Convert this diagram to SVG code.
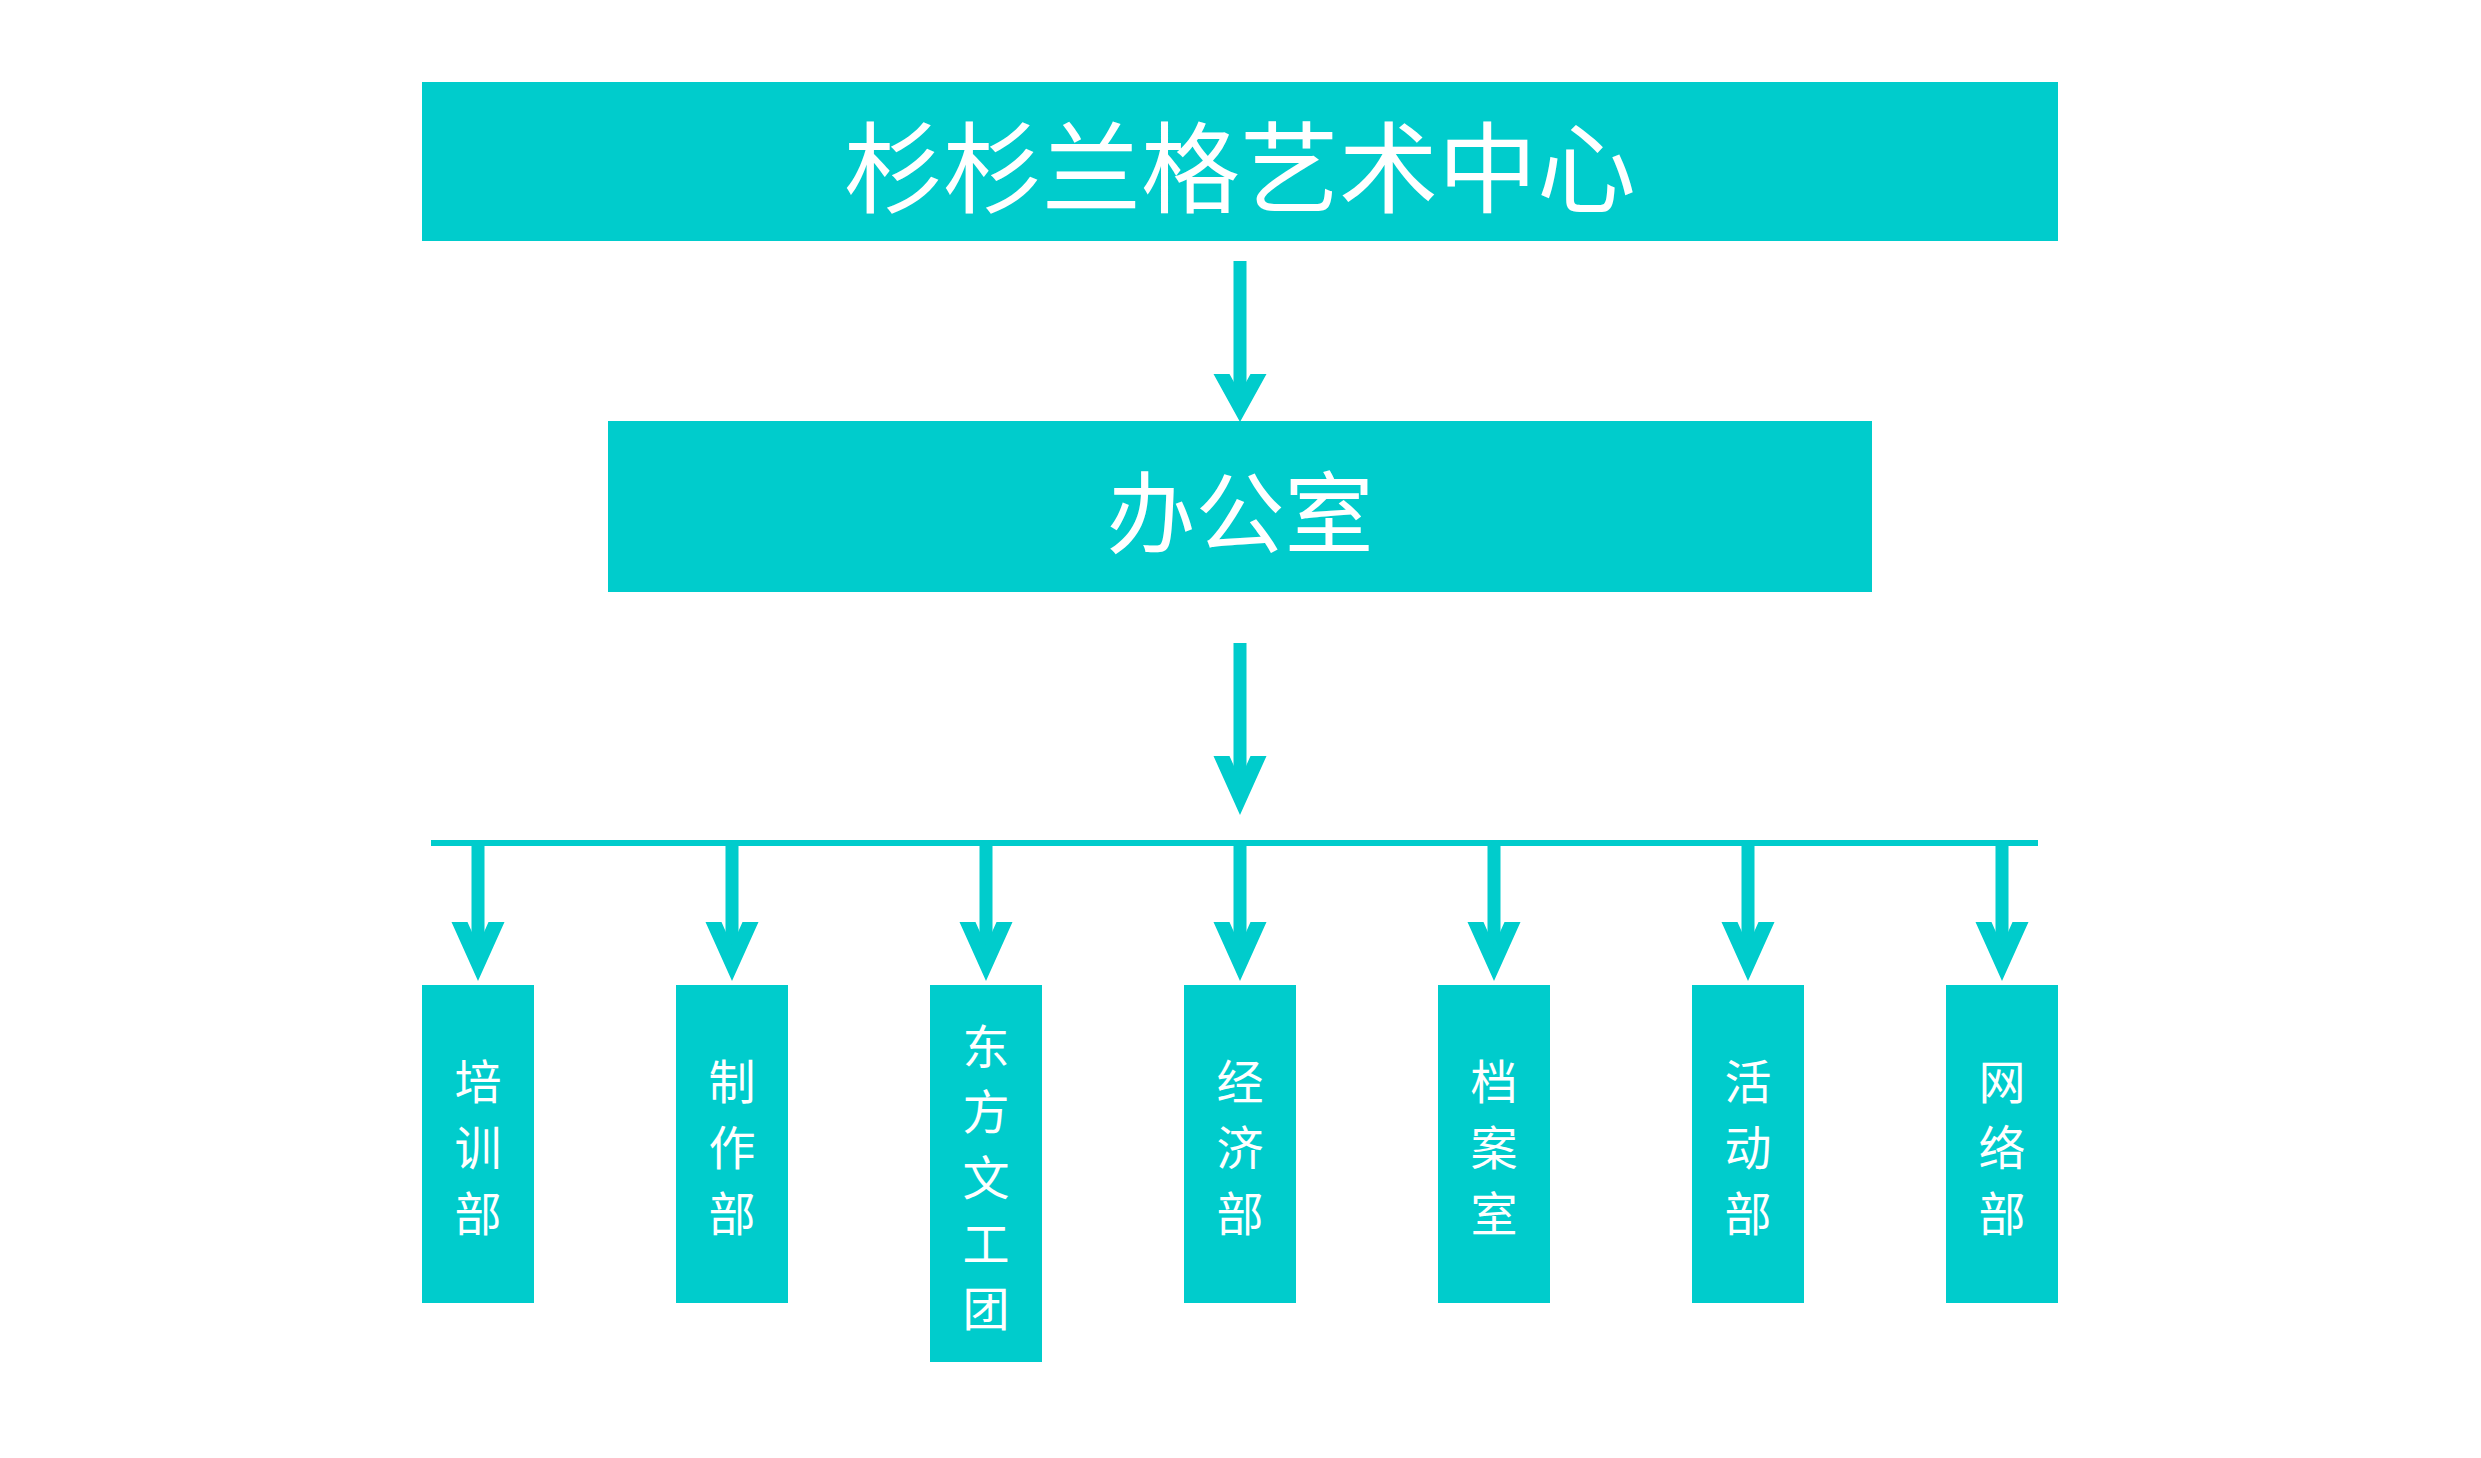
<svg xmlns="http://www.w3.org/2000/svg" width="2481" height="1458" viewBox="0 0 2481 1458">
<style>
.box{fill:#00CCCC}
.t{fill:#ffffff;font-family:"Noto Sans CJK SC","Noto Sans",sans-serif;text-anchor:middle;dominant-baseline:central}
.shaft{stroke:#00CCCC;stroke-width:13;fill:none}
.bus{stroke:#00CCCC;stroke-width:6;fill:none}
.head{fill:#00CCCC}
</style>
<rect width="2481" height="1458" fill="#ffffff"/>
<g id="connectors">
<line class="shaft" x1="1240" y1="261" x2="1240" y2="398"/>
<polygon class="head" points="1213.5,374 1229.5,374 1240,393 1250.5,374 1266.5,374 1240,422"/>
<line class="shaft" x1="1240" y1="643" x2="1240" y2="784"/>
<polygon class="head" points="1213.5,756 1229.5,756 1240,779.4 1250.5,756 1266.5,756 1240,815"/>
<line class="bus" x1="431" y1="843" x2="2038" y2="843"/>
<g id="child-arrows">
<line class="shaft" x1="478" y1="846" x2="478" y2="951"/>
<polygon class="head" points="451.5,922 467.5,922 478,945.8 488.5,922 504.5,922 478,981"/>
<line class="shaft" x1="732" y1="846" x2="732" y2="951"/>
<polygon class="head" points="705.5,922 721.5,922 732,945.8 742.5,922 758.5,922 732,981"/>
<line class="shaft" x1="986" y1="846" x2="986" y2="951"/>
<polygon class="head" points="959.5,922 975.5,922 986,945.8 996.5,922 1012.5,922 986,981"/>
<line class="shaft" x1="1240" y1="846" x2="1240" y2="951"/>
<polygon class="head" points="1213.5,922 1229.5,922 1240,945.8 1250.5,922 1266.5,922 1240,981"/>
<line class="shaft" x1="1494" y1="846" x2="1494" y2="951"/>
<polygon class="head" points="1467.5,922 1483.5,922 1494,945.8 1504.5,922 1520.5,922 1494,981"/>
<line class="shaft" x1="1748" y1="846" x2="1748" y2="951"/>
<polygon class="head" points="1721.5,922 1737.5,922 1748,945.8 1758.5,922 1774.5,922 1748,981"/>
<line class="shaft" x1="2002" y1="846" x2="2002" y2="951"/>
<polygon class="head" points="1975.5,922 1991.5,922 2002,945.8 2012.5,922 2028.5,922 2002,981"/>
</g>
</g>
<g id="node-center">
<rect class="box" x="422" y="82" width="1636" height="159"/>
<text class="t" x="1240" y="162" font-size="99">杉杉兰格艺术中心</text>
</g>
<g id="node-office">
<rect class="box" x="608" y="421" width="1264" height="171"/>
<text class="t" x="1240" y="507" font-size="89">办公室</text>
</g>
<g id="node-peixun">
<rect class="box" x="422" y="985" width="112" height="318"/>
<text class="t" x="478" font-size="47"><tspan x="478" y="1078">培</tspan><tspan x="478" y="1144">训</tspan><tspan x="478" y="1210">部</tspan></text>
</g>
<g id="node-zhizuo">
<rect class="box" x="676" y="985" width="112" height="318"/>
<text class="t" x="732" font-size="47"><tspan x="732" y="1078">制</tspan><tspan x="732" y="1144">作</tspan><tspan x="732" y="1210">部</tspan></text>
</g>
<g id="node-dongfang">
<rect class="box" x="930" y="985" width="112" height="377"/>
<text class="t" x="986" font-size="47"><tspan x="986" y="1043">东</tspan><tspan x="986" y="1108">方</tspan><tspan x="986" y="1174">文</tspan><tspan x="986" y="1240">工</tspan><tspan x="986" y="1305">团</tspan></text>
</g>
<g id="node-jingji">
<rect class="box" x="1184" y="985" width="112" height="318"/>
<text class="t" x="1240" font-size="47"><tspan x="1240" y="1078">经</tspan><tspan x="1240" y="1144">济</tspan><tspan x="1240" y="1210">部</tspan></text>
</g>
<g id="node-dangan">
<rect class="box" x="1438" y="985" width="112" height="318"/>
<text class="t" x="1494" font-size="47"><tspan x="1494" y="1078">档</tspan><tspan x="1494" y="1144">案</tspan><tspan x="1494" y="1210">室</tspan></text>
</g>
<g id="node-huodong">
<rect class="box" x="1692" y="985" width="112" height="318"/>
<text class="t" x="1748" font-size="47"><tspan x="1748" y="1078">活</tspan><tspan x="1748" y="1144">动</tspan><tspan x="1748" y="1210">部</tspan></text>
</g>
<g id="node-wangluo">
<rect class="box" x="1946" y="985" width="112" height="318"/>
<text class="t" x="2002" font-size="47"><tspan x="2002" y="1078">网</tspan><tspan x="2002" y="1144">络</tspan><tspan x="2002" y="1210">部</tspan></text>
</g>
</svg>
